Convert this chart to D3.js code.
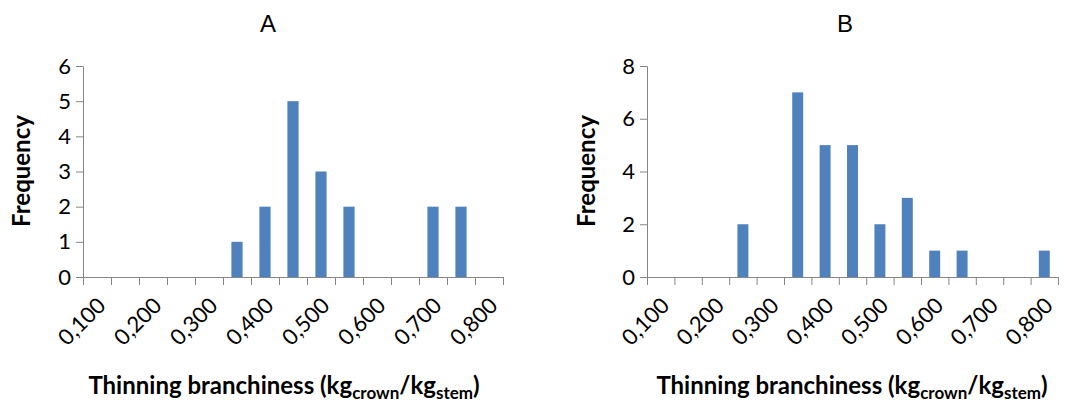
<!DOCTYPE html>
<html>
<head>
<meta charset="utf-8">
<script src="https://cdn.jsdelivr.net/npm/d3@7"></script>
<style>
  body { margin: 0; background: #fff; }
  svg text { font-family: Lato, "Open Sans", sans-serif; fill: #000; }
  .title { font-family: "Liberation Sans", Arial, sans-serif; font-size: 24px; }
  .axis path, .axis line { stroke: #868686; }
</style>
</head>
<body>
<script>
// bin labels (every category of the histogram)
var bins = ["0,100","0,150","0,200","0,250","0,300","0,350","0,400","0,450",
            "0,500","0,550","0,600","0,650","0,700","0,750","0,800"];
// labels shown on the axis (every second bin)
var shownLabels = ["0,100","0,200","0,300","0,400","0,500","0,600","0,700","0,800"];

var freqA = [0,0,0,0,0,1,2,5,3,2,0,0,2,2,0];
var freqB = [0,0,0,2,0,7,5,5,2,3,1,1,0,0,1];

var w = 1075, h = 405;
var svg = d3.select("body").append("svg")
    .attr("width", w).attr("height", h);

var y0 = 277, yTop = 66;

function panel(opt) {
    var g = svg.append("g");

    var x = d3.scaleBand().domain(bins)
        .range([opt.x0, opt.x1])
        .paddingInner(0.6).paddingOuter(0.3);
    var xi = d3.scaleLinear().domain([0, bins.length]).range([opt.x0, opt.x1]);
    var y = d3.scaleLinear().domain([0, opt.ymax]).range([y0, yTop]);

    g.selectAll("rect")
        .data(opt.data)
        .enter()
        .append("rect")
        .attr("x", function(d, i){ return x(bins[i]); })
        .attr("width", x.bandwidth())
        .attr("y", function(d){ return y(d); })
        .attr("height", function(d){ return y0 - y(d); })
        .attr("fill", "#4f81bd");

    // y axis
    g.append("g").attr("class", "axis")
        .attr("transform", "translate(" + opt.x0 + ",0)")
        .call(d3.axisLeft(y).ticks(opt.ymax / opt.ystep).tickSize(7).tickSizeOuter(7))
        .call(function(a){
            a.selectAll("text").style("font-family", "Lato, sans-serif")
             .style("font-size", "22px").attr("x", -12);
        });

    // x axis: ticks on bin boundaries
    g.append("g").attr("class", "axis")
        .attr("transform", "translate(0," + y0 + ")")
        .call(d3.axisBottom(xi).tickValues(d3.range(bins.length + 1))
              .tickFormat("").tickSize(8).tickSizeOuter(0));

    g.selectAll("text.xl")
        .data(shownLabels)
        .enter()
        .append("text")
        .attr("class", "xl")
        .attr("text-anchor", "end")
        .style("font-size", "22px")
        .attr("transform", function(d){
            var cx = x(d) + x.bandwidth() / 2 + 10;
            return "translate(" + cx + "," + (y0 + 30) + ") rotate(-45)";
        })
        .text(function(d){ return d; });

    // titles
    svg.append("text").attr("class", "title")
        .attr("x", opt.tx).attr("y", 32)
        .attr("text-anchor", "middle")
        .text(opt.title);

    svg.append("text")
        .attr("transform", "translate(" + opt.fy + ",171) rotate(-90)")
        .attr("text-anchor", "middle")
        .style("font-size", "24px").style("font-weight", "bold")
        .text("Frequency");

    var xt = svg.append("text")
        .attr("x", opt.xtx).attr("y", 394)
        .attr("text-anchor", "middle")
        .style("font-size", "24px").style("font-weight", "bold");
    xt.append("tspan").text("Thinning branchiness (kg");
    xt.append("tspan").attr("dy", 5).style("font-size", "17px").text("crown");
    xt.append("tspan").attr("dy", -5).text("/kg");
    xt.append("tspan").attr("dy", 5).style("font-size", "17px").text("stem");
    xt.append("tspan").attr("dy", -5).text(")");
}

panel({data: freqA, x0: 83, x1: 503, ymax: 6, ystep: 1, title: "A", tx: 268, fy: 30, xtx: 284});
panel({data: freqB, x0: 647, x1: 1058, ymax: 8, ystep: 2, title: "B", tx: 845, fy: 595, xtx: 852});
</script>
</body>
</html>
